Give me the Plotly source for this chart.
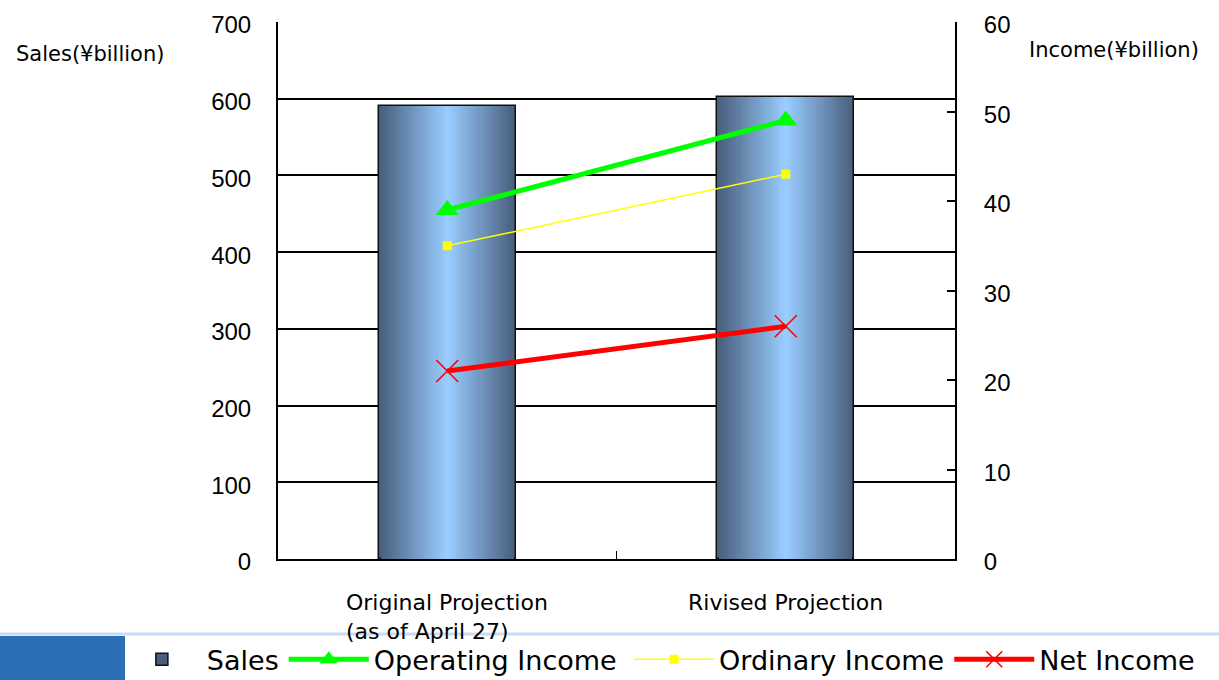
import plotly.graph_objects as go

# Periods and figures (sales on the left axis, income on the right axis)
categories = ["Original Projection<br>(as of April 27)", "Rivised Projection"]
sales = [590, 602]
operating_income = [39, 49]
ordinary_income = [35, 43]
net_income = [21, 26]

left_ticks = [0, 100, 200, 300, 400, 500, 600, 700]
right_ticks = [0, 10, 20, 30, 40, 50, 60]

DARK = (72, 94, 124)
LIGHT = (153, 204, 255)
BAR_WIDTH = 0.405
LAYERS = 32

fig = go.Figure()

# Sales bars: overlaid layers of shrinking width give a cylinder-like shading
for k in range(LAYERS):
    t = k / (LAYERS - 1)
    rgb = tuple(round(d + (l - d) * t) for d, l in zip(DARK, LIGHT))
    fig.add_trace(go.Bar(
        x=categories, y=sales,
        width=BAR_WIDTH * (1 - k / LAYERS),
        marker=dict(color="rgb(%d,%d,%d)" % rgb,
                    line=dict(color="#111111", width=1.5 if k == 0 else 0)),
        name="Sales", showlegend=(k == 0), legendgroup="sales",
        hoverinfo="skip" if k else "x+y",
    ))

fig.add_trace(go.Scatter(
    x=categories, y=operating_income, yaxis="y2", name="Operating Income",
    mode="lines+markers",
    line=dict(color="#00ff00", width=5),
    marker=dict(symbol="triangle-up", size=20, color="#00ff00"),
))
fig.add_trace(go.Scatter(
    x=categories, y=ordinary_income, yaxis="y2", name="Ordinary Income",
    mode="lines+markers", legend="legend2",
    line=dict(color="#ffff00", width=1.5),
    marker=dict(symbol="square", size=9, color="#ffff00"),
))
fig.add_trace(go.Scatter(
    x=categories, y=net_income, yaxis="y2", name="Net Income",
    mode="lines+markers", legend="legend2",
    line=dict(color="#ff0000", width=5),
    marker=dict(symbol="x-thin-open", size=22, color="#ff0000",
                line=dict(color="#ff0000", width=1.6)),
))

tick_font = dict(family="Liberation Sans, Arial, sans-serif", size=24, color="#000000")
text_font = "DejaVu Sans, sans-serif"

# The key row is split over two legend boxes so that it can run across the whole footer
legend_style = dict(
    orientation="h", xanchor="left", y=-0.142, yanchor="top",
    font=dict(family=text_font, size=27, color="#000000"),
    bgcolor="rgba(255,255,255,0)", itemwidth=80, tracegroupgap=0,
)

fig.update_layout(
    width=1219, height=680,
    margin=dict(l=278, r=264, t=22, b=121, autoexpand=False),
    paper_bgcolor="#ffffff", plot_bgcolor="#ffffff",
    barmode="overlay", bargap=0,
    showlegend=True,
    legend=dict(x=-0.238, **legend_style),
    legend2=dict(x=0.5185, **legend_style),
    xaxis=dict(
        type="category", showticklabels=False,
        showline=True, linecolor="#000000", linewidth=2,
        ticks="inside", tickson="boundaries", ticklen=8, tickcolor="#000000",
        showgrid=False, zeroline=False, fixedrange=True,
    ),
    yaxis=dict(
        range=[0, 700], tickvals=left_ticks, ticktext=[str(v) for v in left_ticks],
        showline=True, linecolor="#000000", linewidth=2,
        showgrid=True, gridcolor="#000000", gridwidth=2,
        ticks="", ticklabelstandoff=20, ticklabelshift=3,
        tickfont=tick_font, zeroline=False,
    ),
    yaxis2=dict(
        range=[0, 60], tickvals=right_ticks, ticktext=[str(v) for v in right_ticks],
        overlaying="y", side="right",
        showline=True, linecolor="#000000", linewidth=2,
        showgrid=False, ticks="inside", ticklen=8, tickcolor="#000000", tickwidth=1.5,
        ticklabelstandoff=22, ticklabelshift=3, tickfont=tick_font, zeroline=False,
    ),
)

# Category labels under the bars, lines aligned on the left
for cat in categories:
    fig.add_annotation(
        x=cat, y=-0.054, xref="x", yref="paper", yanchor="top",
        text=cat, showarrow=False, align="left",
        font=dict(family=text_font, size=22, color="#000000"),
    )

# Axis captions
fig.add_annotation(
    x=-0.39, y=0.94, xref="paper", yref="paper", xanchor="left", yanchor="middle",
    text="Sales(¥billion)", showarrow=False,
    font=dict(family=text_font, size=21, color="#000000"),
)
fig.add_annotation(
    x=1.107, y=0.947, xref="paper", yref="paper", xanchor="left", yanchor="middle",
    text="Income(¥billion)", showarrow=False,
    font=dict(family=text_font, size=21, color="#000000"),
)

# Footer band: thin rule and blue block at the lower left
def px_x(v):
    return (v - 278) / 677

def px_y(v):
    return (559 - v) / 537

fig.add_shape(type="line", xref="paper", yref="paper",
              x0=px_x(0), x1=px_x(1219), y0=px_y(634), y1=px_y(634),
              line=dict(color="#c9dcf1", width=3), layer="below")
fig.add_shape(type="rect", xref="paper", yref="paper",
              x0=px_x(0), x1=px_x(125), y0=px_y(636), y1=px_y(681),
              fillcolor="#2b6fb7", line=dict(width=0), layer="below")

fig.write_html("out.html")
